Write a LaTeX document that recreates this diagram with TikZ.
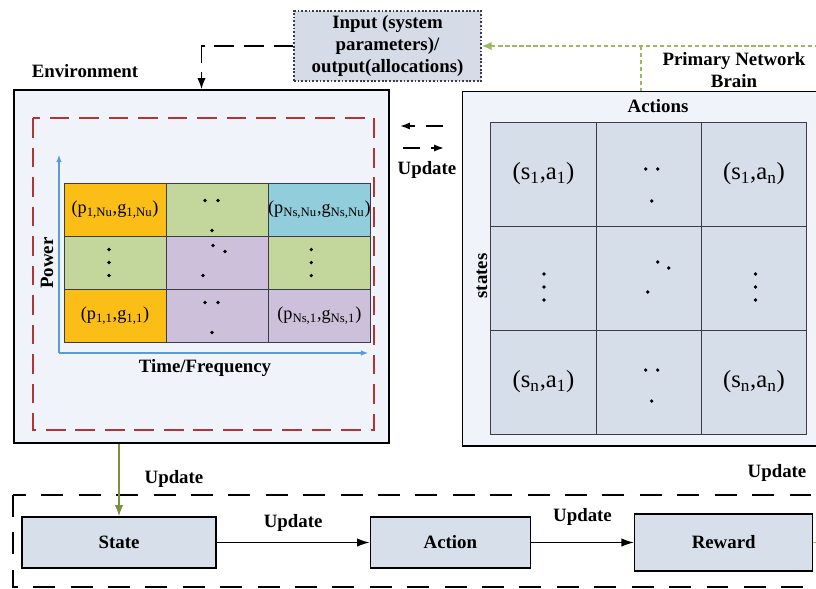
\documentclass[tikz,border=0pt]{standalone}
\usepackage{fontspec}
\setmainfont{Liberation Serif}
\usetikzlibrary{calc,positioning,arrows.meta}

\begin{document}
\begin{tikzpicture}[
            x=0.025cm, y=-0.025cm,
            node distance=3mm,
            lbl/.style={font=\fontsize{13.4}{15.6}\selectfont\bfseries},
            stepbox/.style={draw, line width=0.9pt, fill=boxbg, lbl},
            longdash/.style={dash pattern=on 15.6pt off 11pt, line width=1pt},
            reddash/.style={draw=redx, dash pattern=on 14pt off 7pt, line width=1.3pt},
            axis/.style={draw=bluex, line width=0.8pt, -{Latex[length=5pt,width=4pt]}},
            gdot/.style={draw=olivex, dash pattern=on 3pt off 2pt, line width=1.2pt},
            swap/.style={dash pattern=on 12pt off 8pt, line width=1.1pt, -{Latex[length=7pt,width=5pt]}}
        ]
            \definecolor{envbg}{RGB}{240,244,250}
            \definecolor{boxbg}{RGB}{214,223,234}
            \definecolor{inpbg}{RGB}{213,220,231}
            \definecolor{cellq}{RGB}{213,222,233}
            \definecolor{cellline}{RGB}{60,60,70}
            \definecolor{org}{RGB}{250,190,22}
            \definecolor{grn}{RGB}{195,214,155}
            \definecolor{cyn}{RGB}{146,205,220}
            \definecolor{pur}{RGB}{204,192,218}
            \definecolor{redx}{RGB}{178,52,52}
            \definecolor{bluex}{RGB}{91,155,213}
            \definecolor{olivex}{RGB}{155,187,89}
            \definecolor{greenx}{RGB}{119,147,60}

            \useasboundingbox (0,0) rectangle (816,588);
            \clip (0,0) rectangle (816,588);
            \fill [white] (0,0) rectangle (816,588);

            % environment side
            \node (env) [draw, line width=1pt, fill=envbg, minimum width=9.375cm, minimum height=8.825cm] at (201.5,266.5) {};
            \node (envlbl) [lbl] at (85,71) {Environment};
            \draw [reddash] (33,118) rectangle (374,430);

            \begin{scope}[
                node distance=-0.6pt,
                every node/.style={draw=cellline, line width=0.6pt, minimum width=2.55cm, minimum height=1.325cm, inner sep=0pt, font=\fontsize{13}{15}\selectfont}
            ]
                \node (g11) [fill=org] at (115,209.5) {(p\textsubscript{1,Nu},g\textsubscript{1,Nu})};
                \node (g12) [right=of g11,fill=grn] {};
                \node (g13) [right=of g12,fill=cyn] {(p\textsubscript{Ns,Nu},g\textsubscript{Ns,Nu})};
                \node (g21) [below=of g11,fill=grn] {};
                \node (g22) [below=of g12,fill=pur] {};
                \node (g23) [below=of g13,fill=grn] {};
                \node (g31) [below=of g21,fill=org] {(p\textsubscript{1,1},g\textsubscript{1,1})};
                \node (g32) [below=of g22,fill=pur] {};
                \node (g33) [below=of g23,fill=pur] {(p\textsubscript{Ns,1},g\textsubscript{Ns,1})};
            \end{scope}
            \foreach \c/\dx/\dy in {g12/-12/-9, g12/1/-9, g12/-5/21, g22/-4/-17, g22/8/-11, g22/-14/13,
                                    g32/-12/-13, g32/1/-13, g32/-5/17, g21/-6/-13, g21/-6/0, g21/-6/13,
                                    g23/-8/-13, g23/-8/0, g23/-8/13}
                \fill ($(\c)+(\dx,\dy)$) circle (1.3pt);

            \coordinate (orig) at (59,353);
            \draw [axis] (orig) -- ++(0,-198);
            \draw [axis] (orig) -- ++(309,0);
            \node (pw) [lbl,rotate=90] at (47,263)  {Power};
            \node (tf) [lbl]           at (205,368) {Time/Frequency};

            % brain side
            \node (brain) [draw, line width=1pt, fill=envbg, minimum width=9.5cm, minimum height=8.85cm, anchor=north west] at (462,91) {};
            \node (brainlbl) [lbl,align=center] at (734,70) {Primary Network\\Brain};
            \node (actlbl)   [lbl]              at (658,106) {Actions};
            \node (stlbl)    [lbl,rotate=90]    at (482,276) {states};

            \begin{scope}[
                node distance=-0.6pt,
                every node/.style={draw=cellline, line width=0.6pt, fill=cellq, minimum width=2.63cm, minimum height=2.6cm, inner sep=0pt, font=\fontsize{17.5}{20}\selectfont}
            ]
                \node (q11)                  at (543.5,174) {(s\textsubscript{1},a\textsubscript{1})};
                \node (q12) [right=of q11] {};
                \node (q13) [right=of q12] {(s\textsubscript{1},a\textsubscript{n})};
                \node (q21) [below=of q11] {};
                \node (q22) [below=of q12] {};
                \node (q23) [below=of q13] {};
                \node (q31) [below=of q21] {(s\textsubscript{n},a\textsubscript{1})};
                \node (q32) [below=of q22] {};
                \node (q33) [below=of q23] {(s\textsubscript{n},a\textsubscript{n})};
            \end{scope}
            \foreach \c/\dx/\dy in {q12/-3/-5, q12/9/-5, q12/3/27, q22/9/-16, q22/20/-10, q22/-1/14,
                                    q32/-3/-12, q32/9/-12, q32/3/19, q21/0.5/-4, q21/0.5/9, q21/0.5/22,
                                    q23/1.5/-4, q23/1.5/9, q23/1.5/22}
                \fill ($(\c)+(\dx,\dy)$) circle (1.3pt);

            % input / output box
            \node (inp) [lbl, draw=cellline, dash pattern=on 1.3pt off 1.3pt, line width=1.1pt, fill=inpbg, align=center,
                         minimum width=4.675cm, minimum height=1.75cm, inner sep=1pt] at (387.5,46)
                         {Input (system\\parameters)/\\output(allocations)};
            \draw [dash pattern=on 14pt off 7pt, line width=1.2pt, -{Latex[length=8pt,width=6pt]}] (inp.west) -| (env.north);

            \coordinate (gsrc) at (840,46);
            \coordinate (gtap) at (641,46);
            \draw [gdot, -{Latex[length=7pt,width=6pt]}] (gsrc) -- (inp.east);
            \draw [gdot] (gtap) -- (gtap |- brain.north);

            % update between both sides
            \coordinate (ua) at (443,126);
            \coordinate (ub) at (400,126);
            \coordinate (uc) at (403,148);
            \coordinate (ud) at (444,148);
            \draw [swap] (ua) -- (ub);
            \draw [swap] (uc) -- (ud);
            \node (updm) [lbl] at (427,170) {Update};

            % learning loop
            \draw [longdash] (13,495) rectangle (900,587);
            \node (state)  [stepbox, minimum width=4.85cm, minimum height=1.275cm] at (119,542.5) {State};
            \node (action) [stepbox, right=3.825cm of state, minimum width=4cm, minimum height=1.275cm] {Action};
            \node (reward) [stepbox, right=2.575cm of action, minimum width=4.45cm, minimum height=1.425cm] {Reward};
            \draw [line width=1.1pt, -{Latex[length=9pt,width=6pt]}] (state)  -- node (u1) [lbl,above=1.5mm] {Update} (action);
            \draw [line width=1.1pt, -{Latex[length=9pt,width=6pt]}] (action) -- node (u2) [lbl,above=3mm]   {Update} (reward);
            \draw [draw=greenx, line width=1.2pt, -{Latex[length=8pt,width=6pt]}] (env.south -| state.north) -- (state.north);
            \node (ul) [lbl] at (174,479) {Update};
            \node (ur) [lbl] at (777,473) {Update};
            \coordinate (rout) at (840,542.5);
            \draw [gdot] (reward.east) -- (rout);
        \end{tikzpicture}
\end{document}
